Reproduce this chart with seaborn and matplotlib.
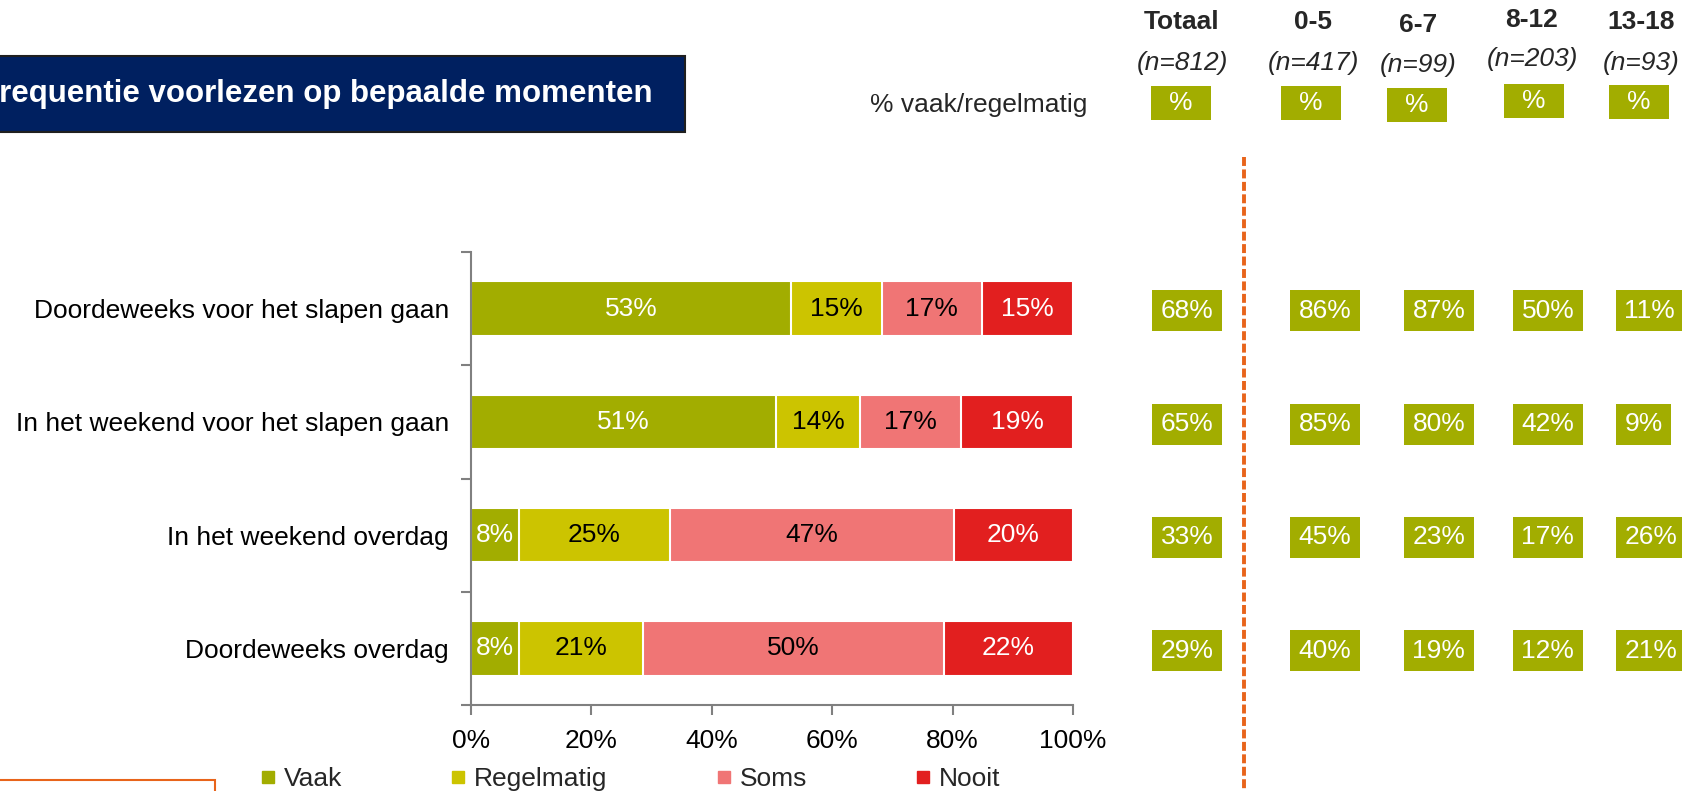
import numpy as np
import pandas as pd
import matplotlib
matplotlib.use("Agg")
import matplotlib.pyplot as plt
from matplotlib.patches import Rectangle
from matplotlib.lines import Line2D
import seaborn as sns

# Data
momenten = ["Doordeweeks voor het slapen gaan",
            "In het weekend voor het slapen gaan",
            "In het weekend overdag",
            "Doordeweeks overdag"]
vaak = [53.2, 50.7, 7.9, 7.9]
regelmatig = [15.0, 13.9, 25.2, 20.6]
soms = [16.7, 16.8, 47.1, 50.0]
nooit = [15.1, 18.6, 19.8, 21.5]
series_names = ["Vaak", "Regelmatig", "Soms", "Nooit"]

groepen = ["Totaal", "0-5", "6-7", "8-12", "13-18"]
n_groepen = [812, 417, 99, 203, 93]
totaal = [68, 65, 33, 29]
leeftijd_0_5 = [86, 85, 45, 40]
leeftijd_6_7 = [87, 80, 23, 19]
leeftijd_8_12 = [50, 42, 17, 12]
leeftijd_13_18 = [11, 9, 26, 21]

# Kleuren
colors = ["#A2AD00", "#CCC400", "#F07575", "#E21F1F"]
text_colors = ["white", "black", "black", "white"]
GREEN = "#A2AD00"
NAVY = "#002060"
ORANGE = "#E8641B"
GRAY = "#808080"
FS = 19

sns.set_theme(style="white")
plt.rcParams["font.family"] = ["Liberation Sans", "DejaVu Sans"]

W, H = 1682, 791
fig = plt.figure(figsize=(W / 100, H / 100), dpi=100)

# hoofdgrafiek
left, right, top, bottom = 471, 1073, 252, 705
rect = [left / W, 1 - bottom / H, (right - left) / W, (bottom - top) / H]
ax = fig.add_axes(rect)

values = np.array([vaak, regelmatig, soms, nooit])
cum = np.cumsum(values, axis=0)

# gestapeld: grootste cumulatieve eerst tekenen
for k in reversed(range(4)):
    df = pd.DataFrame({"moment": momenten, "waarde": cum[k]})
    sns.barplot(data=df, x="waarde", y="moment", color=colors[k], saturation=1,
                width=0.48, edgecolor="white", linewidth=1.5, errorbar=None, ax=ax)

for k in range(4):
    for i in range(len(momenten)):
        v = values[k, i]
        ax.text(cum[k, i] - v / 2, i, f"{v:.0f}%", ha="center", va="center",
                fontsize=FS, color=text_colors[k])

ax.set_xlim(0, 100)
ax.set_ylim(3.5, -0.5)
ax.set_xlabel("")
ax.set_ylabel("")
ax.set_xticks(range(0, 101, 20))
ax.set_xticklabels([f"{t}%" for t in range(0, 101, 20)])
ax.set_yticks([-0.5, 0.5, 1.5, 2.5, 3.5], minor=True)
ax.tick_params(axis="y", which="major", length=0, pad=16, labelsize=FS, labelcolor="black")
ax.tick_params(axis="y", which="minor", left=True, length=7, width=1.5, color=GRAY, direction="out")
ax.tick_params(axis="x", bottom=True, length=7, width=1.5, color=GRAY, direction="out",
               pad=10, labelsize=FS, labelcolor="black")
for s in ["top", "right"]:
    ax.spines[s].set_visible(False)
for s in ["left", "bottom"]:
    ax.spines[s].set_color(GRAY)
    ax.spines[s].set_linewidth(1.5)

# kolommen rechts (% vaak/regelmatig)
ax2 = fig.add_axes([0, rect[1], 1, rect[3]])
ax2.set_xlim(0, W)
ax2.set_ylim(3.5, -0.5)
ax2.axis("off")
box_left = [1152, 1290, 1404, 1513, 1616]
kolommen = [totaal, leeftijd_0_5, leeftijd_6_7, leeftijd_8_12, leeftijd_13_18]
for j, kol in enumerate(kolommen):
    for i, v in enumerate(kol):
        ax2.text(box_left[j] + 8.5, i + 0.02, f"{v}%", ha="left", va="center", fontsize=FS,
                 color="white", clip_on=False,
                 bbox=dict(boxstyle="square,pad=0.32", fc=GREEN, ec="none"))

# overlay in pixels voor titel en koppen
axo = fig.add_axes([0, 0, 1, 1], zorder=-1)
axo.set_xlim(0, W)
axo.set_ylim(H, 0)
axo.axis("off")

axo.add_patch(Rectangle((-5, 56), 690, 76, fc=NAVY, ec="#1f1f1f", lw=1.5))
axo.text(653, 94, "Frequentie voorlezen op bepaalde momenten", ha="right", va="center",
         fontsize=22.5, fontweight="bold", color="white")

head_x = [1182, 1313, 1418, 1532, 1641]
head_y = [22, 22, 25, 20, 22]
n_y = [63, 63, 65, 59, 63]
pbox = [(1151, 86), (1281, 86), (1387, 88), (1504, 84), (1609, 85)]
for j, g in enumerate(groepen):
    axo.text(head_x[j], head_y[j], g, ha="center", va="center", fontsize=19, fontweight="bold")
    axo.text(head_x[j], n_y[j], f"(n={n_groepen[j]})", ha="center", va="center",
             fontsize=FS, style="italic")
    bx, by = pbox[j]
    axo.add_patch(Rectangle((bx, by), 60, 34, fc=GREEN, ec="none"))
    axo.text(bx + 30, by + 17, "%", ha="center", va="center", fontsize=FS, color="white")

axo.text(1087, 105, "% vaak/regelmatig", ha="right", va="center", fontsize=FS)

# stippellijn en kader linksonder
axo.plot([1244, 1244], [157, H + 5], color=ORANGE, lw=2.8, linestyle=(0, (2.3, 0.9)))
axo.add_patch(Rectangle((-5, 780), 220, 30, fill=False, ec=ORANGE, lw=1.5))

# legenda
handles = [Line2D([0], [0], marker="s", color="none", markerfacecolor=c, markeredgecolor=c,
                  markersize=8, label=n) for c, n in zip(colors, series_names)]
fig.legend(handles=handles, loc="center left", bbox_to_anchor=(260 / W, 1 - 779 / H),
           ncol=4, frameon=False, fontsize=FS, handlelength=0.6, handletextpad=0.3,
           columnspacing=4.1, borderpad=0, borderaxespad=0)

fig.savefig("out.png", dpi=100)
